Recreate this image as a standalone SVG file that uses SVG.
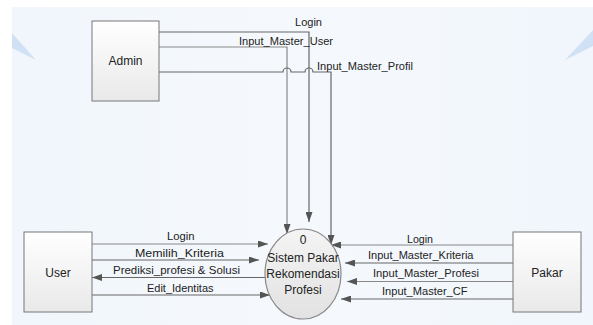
<svg xmlns="http://www.w3.org/2000/svg" width="593" height="325" viewBox="0 0 593 325">
<defs>
<style>
.lbl{font-family:"Liberation Sans",Arial,sans-serif;font-size:11.5px;fill:#222}
.box{font-family:"Liberation Sans",Arial,sans-serif;font-size:12px;fill:#222}
.ent{fill:url(#gBox);stroke:#777;stroke-width:1}
.ln{fill:none;stroke:#666;stroke-width:1.2}
.ln2{fill:none;stroke:#888;stroke-width:1.2}
</style>
<linearGradient id="gBox" x1="0" y1="0" x2="0" y2="1">
<stop offset="0" stop-color="#ffffff"/>
<stop offset="1" stop-color="#e9e9e9"/>
</linearGradient>
<linearGradient id="gProc" x1="0" y1="0" x2="0" y2="1">
<stop offset="0" stop-color="#f4f4f4"/>
<stop offset="1" stop-color="#e2e2e2"/>
</linearGradient>
<linearGradient id="gBg" x1="0" y1="0" x2="1" y2="0">
<stop offset="0" stop-color="#f1f6fc"/>
<stop offset="0.5" stop-color="#f5f9fd"/>
<stop offset="1" stop-color="#f1f6fc"/>
</linearGradient>
<marker id="arr" viewBox="0 0 10 7" refX="10" refY="3.5" markerWidth="10" markerHeight="7" markerUnits="userSpaceOnUse" orient="auto">
<path d="M0,0 L10,3.5 L0,7 z" fill="#555"/>
</marker>
</defs>
<rect x="0" y="0" width="593" height="325" fill="#ffffff"/>
<rect x="12" y="7" width="581" height="318" fill="url(#gBg)"/>
<polygon points="12,33 36,60 12,48" fill="#c9dcf2" opacity="0.8"/>
<polygon points="565,60 593,30 593,46" fill="#c9dcf2" opacity="0.8"/>

<g id="connectors">
<path class="ln" d="M159,32 H309 V222" marker-end="url(#arr)"/>
<path class="ln2" d="M159,47 H287 V234" marker-end="url(#arr)"/>
<path class="ln" d="M159,72 H283 A4,4 0 0 1 291,72 H305 A4,4 0 0 1 313,72 H331 V245" marker-end="url(#arr)"/>
<path class="ln2" d="M92,244 H268" marker-end="url(#arr)"/>
<path class="ln" d="M92,260 H259" marker-end="url(#arr)"/>
<path class="ln" d="M269,277.5 H92" marker-end="url(#arr)"/>
<path class="ln" d="M92,295 H270" marker-end="url(#arr)"/>
<path class="ln2" d="M513,245 H331" marker-end="url(#arr)"/>
<path class="ln" d="M513,263 H345" marker-end="url(#arr)"/>
<path class="ln2" d="M513,281.5 H347" marker-end="url(#arr)"/>
<path class="ln" d="M515,299 H341" marker-end="url(#arr)"/>
</g>

<g id="labels">
<text class="lbl" x="295" y="26" textLength="27" lengthAdjust="spacingAndGlyphs">Login</text>
<text class="lbl" x="239" y="45" textLength="94" lengthAdjust="spacingAndGlyphs">Input_Master_User</text>
<text class="lbl" x="317" y="70" textLength="96" lengthAdjust="spacingAndGlyphs">Input_Master_Profil</text>
<text class="lbl" x="167" y="240" textLength="27.5" lengthAdjust="spacingAndGlyphs">Login</text>
<text class="lbl" x="135" y="256.5" textLength="89" lengthAdjust="spacingAndGlyphs">Memilih_Kriteria</text>
<text class="lbl" x="113" y="274" textLength="127" lengthAdjust="spacingAndGlyphs">Prediksi_profesi &amp; Solusi</text>
<text class="lbl" x="147" y="291.5" textLength="66.5" lengthAdjust="spacingAndGlyphs">Edit_Identitas</text>
<text class="lbl" x="407" y="242.5" textLength="26" lengthAdjust="spacingAndGlyphs">Login</text>
<text class="lbl" x="368" y="259" textLength="105.5" lengthAdjust="spacingAndGlyphs">Input_Master_Kriteria</text>
<text class="lbl" x="373" y="276.5" textLength="106" lengthAdjust="spacingAndGlyphs">Input_Master_Profesi</text>
<text class="lbl" x="382" y="295" textLength="85.5" lengthAdjust="spacingAndGlyphs">Input_Master_CF</text>
</g>

<g id="admin">
<rect class="ent" x="92" y="21" width="67" height="80"/>
<text class="box" x="125.5" y="65" text-anchor="middle">Admin</text>
</g>
<g id="user">
<rect class="ent" x="24" y="232" width="68" height="80"/>
<text class="box" x="58" y="276.5" text-anchor="middle">User</text>
</g>
<g id="pakar">
<rect class="ent" x="513" y="232" width="68" height="80"/>
<text class="box" x="547" y="276.5" text-anchor="middle">Pakar</text>
</g>
<g id="process">
<ellipse cx="303" cy="274" rx="38" ry="45" fill="url(#gProc)" stroke="#888" stroke-width="1.2"/>
<text class="box" x="303" y="244" text-anchor="middle">0</text>
<text class="box" x="303" y="262" text-anchor="middle">Sistem Pakar</text>
<text class="box" x="303" y="278" text-anchor="middle">Rekomendasi</text>
<text class="box" x="303" y="294" text-anchor="middle">Profesi</text>
</g>
</svg>
